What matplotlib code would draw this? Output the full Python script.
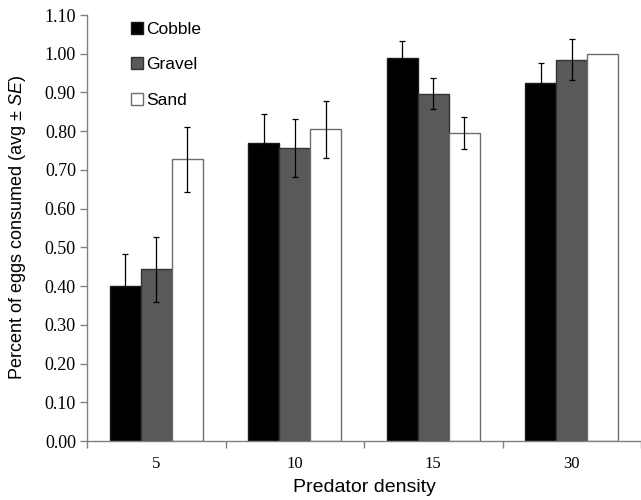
import numpy as np
import matplotlib
matplotlib.use("Agg")
import matplotlib.pyplot as plt

densities = ["5", "10", "15", "30"]
substrates = ["Cobble", "Gravel", "Sand"]

cobble = [0.40, 0.77, 0.99, 0.925]
gravel = [0.443, 0.757, 0.897, 0.985]
sand = [0.727, 0.805, 0.795, 1.00]

cobble_se = [0.083, 0.075, 0.042, 0.052]
gravel_se = [0.084, 0.075, 0.041, 0.053]
sand_se = [0.083, 0.073, 0.041, 0.0]

yticks = [0.0, 0.1, 0.2, 0.3, 0.4, 0.5, 0.6, 0.7, 0.8, 0.9, 1.0, 1.1]

plt.rcParams['mathtext.fontset'] = 'custom'
plt.rcParams['mathtext.rm'] = 'Liberation Sans'
plt.rcParams['mathtext.it'] = 'Liberation Sans:italic'

fig = plt.figure(figsize=(6.41, 5.0), dpi=100)
ax = fig.add_axes([87/641, 59/500, 554/641, 426/500])

x = np.arange(len(densities))
w = 0.223
fills = ["#000000", "#595959", "#ffffff"]
edges = ["#1a1a1a", "#333333", "#6e6e6e"]
series = [cobble, gravel, sand]
errs = [cobble_se, gravel_se, sand_se]

for i in range(3):
    xs = x + (i - 1) * w
    ax.bar(xs, series[i], width=w, color=fills[i], edgecolor=edges[i],
           linewidth=1.0, label=substrates[i], zorder=2)
    # no error bar drawn where SE is zero
    se = np.array(errs[i])
    m = se > 0
    ax.errorbar(xs[m], np.array(series[i])[m], yerr=se[m], fmt='none', ecolor='#000000',
                elinewidth=0.9, capsize=2.2, capthick=0.9, zorder=3)

ax.set_xlim(-0.5, 3.5)
ax.set_ylim(0, 1.1)
ax.set_yticks(yticks)
ax.set_yticklabels(["%.2f" % v for v in yticks], fontfamily='Liberation Serif', fontsize=13)
ax.set_xticks(x)
ax.set_xticklabels(densities, fontfamily='Liberation Serif', fontsize=12)
ax.set_xticks(np.arange(-0.5, 4.0, 1.0), minor=True)
ax.tick_params(axis='x', which='major', length=0, pad=11)
ax.tick_params(axis='x', which='minor', length=5, color='#808080', width=1)
ax.tick_params(axis='y', length=5, color='#808080', width=1, pad=3)

for s in ['top', 'right']:
    ax.spines[s].set_visible(False)
for s in ['left', 'bottom']:
    ax.spines[s].set_color('#808080')
    ax.spines[s].set_linewidth(1)

ax.set_xlabel("Predator density", fontfamily='Liberation Sans', fontsize=14, labelpad=5)
ax.set_ylabel(r"Percent of eggs consumed (avg ± $\mathit{SE}$)", fontfamily='Liberation Sans',
              fontsize=13, labelpad=12)

ax.legend(loc='upper left', bbox_to_anchor=(0.063, 1.005), frameon=False, borderpad=0,
          handlelength=0.7, handleheight=0.7, handletextpad=0.2, labelspacing=1.18,
          prop={'family': 'Liberation Sans', 'size': 12.5})

fig.savefig("out.png", dpi=100)
